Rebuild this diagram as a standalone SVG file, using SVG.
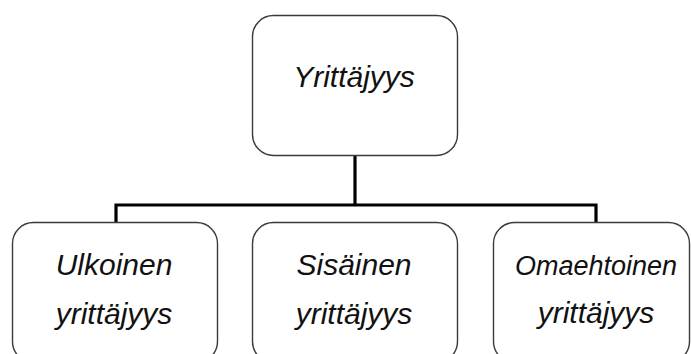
<svg xmlns="http://www.w3.org/2000/svg" width="691" height="354" viewBox="0 0 691 354">
<style>
.box{fill:#fff;stroke:#3a3a3a;stroke-width:1.4}
.t{font-family:"Liberation Sans",Arial,sans-serif;font-style:italic;fill:#111;text-anchor:middle;font-size:30px}
.conn{fill:none;stroke:#000;stroke-width:3.2;stroke-linejoin:miter}
</style>
<rect width="691" height="354" fill="#fff"/>
<g id="connectors">
<path class="conn" d="M355,155 V205"/>
<path class="conn" d="M116,222 V205 H596 V222"/>
</g>
<g id="root">
<rect class="box" x="252.5" y="15.5" width="205" height="140" rx="21"/>
<text class="t" x="354" y="87">Yrittäjyys</text>
</g>
<g id="ulkoinen">
<rect class="box" x="12.5" y="222.5" width="205" height="140" rx="21"/>
<text class="t" x="114" y="275">Ulkoinen</text>
<text class="t" x="114" y="324">yrittäjyys</text>
</g>
<g id="sisainen">
<rect class="box" x="252.5" y="222.5" width="205" height="140" rx="21"/>
<text class="t" x="354" y="275">Sisäinen</text>
<text class="t" x="354" y="324">yrittäjyys</text>
</g>
<g id="omaehtoinen">
<rect class="box" x="493.5" y="222.5" width="196" height="140" rx="21"/>
<text class="t" x="596" y="275" style="font-size:27px">Omaehtoinen</text>
<text class="t" x="596" y="323">yrittäjyys</text>
</g>
</svg>
